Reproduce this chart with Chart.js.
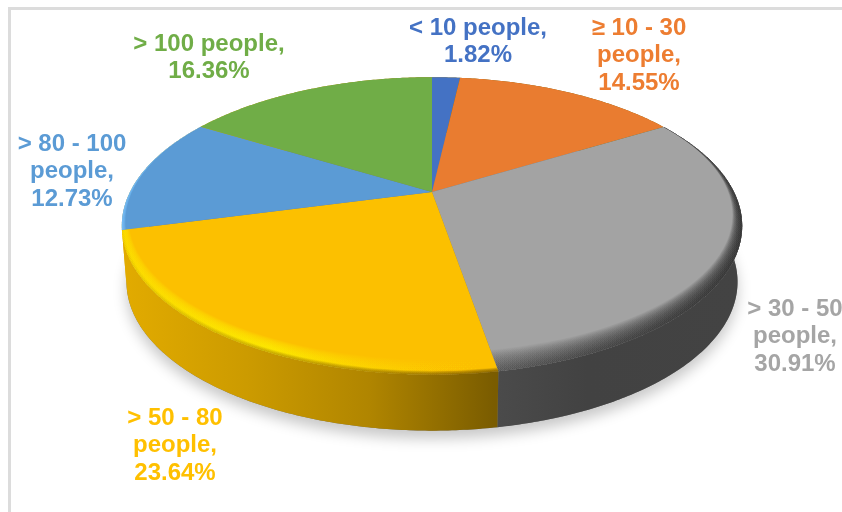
<!DOCTYPE html>
<html>
<head>
<meta charset="utf-8">
<style>
  html, body { margin: 0; background: #fff; overflow: hidden; width: 842px; height: 512px; }
  #frame { position: absolute; left: 8px; top: 7px; width: 900px; height: 600px; border: 3px solid #dcdcdc; }
  #pie { position: absolute; left: 0; top: 0; }
</style>
</head>
<body>
<div id="frame"></div>
<canvas id="pie" width="842" height="512"></canvas>
<script src="https://cdn.jsdelivr.net/npm/chart.js@4"></script>
<script>
const categories = ["< 10 people", "≥ 10 - 30 people", "> 30 - 50 people", "> 50 - 80 people", "> 80 - 100 people", "> 100 people"];
const shares = [1.82, 14.55, 30.91, 23.64, 12.73, 16.36];
const colors = ["#4472c4", "#e97c30", "#a3a3a3", "#fcc000", "#5b9bd5", "#70ad47"];
const textColors = ["#4472c4", "#ed7d31", "#a5a5a5", "#ffc000", "#5b9bd5", "#70ad47"];
const labelLines = [
    ["< 10 people,", "1.82%"],
    ["≥ 10 - 30", "people,", "14.55%"],
    ["> 30 - 50", "people,", "30.91%"],
    ["> 50 - 80", "people,", "23.64%"],
    ["> 80 - 100", "people,", "12.73%"],
    ["> 100 people,", "16.36%"]
];
const labelX = [478, 639, 795, 175, 72, 209];
const labelY = [28, 28, 309, 418, 144, 44];

// perspective of the disc: centre of the pie is not the centre of the ellipse
const CX = 432, CY = 192, RX = 302, RY = 141, TILT = -0.228, DEPTH = 56;
const ELL = { rx: 310, ry: 149, cy: 226 };

function topPoint(a, r = 1) {
    const u = r * Math.cos(a), v = r * Math.sin(a), w = 1 + TILT * v;
    return [CX + RX * u / w, CY + RY * v / w];
}

function bottomPoint(a) {
    const p = topPoint(a);
    return [CX + (p[0] - CX) * 0.985, p[1] + DEPTH];
}

function arcPoints(a1, a2, fn) {
    const n = Math.max(2, Math.ceil((a2 - a1) / 0.01));
    const pts = [];
    for (let i = 0; i <= n; i++) pts.push(fn(a1 + (a2 - a1) * i / n));
    return pts;
}

function tracePoly(ctx, pts) {
    ctx.beginPath();
    pts.forEach((p, i) => i ? ctx.lineTo(p[0], p[1]) : ctx.moveTo(p[0], p[1]));
    ctx.closePath();
}

// crescent between the rim and a smaller ellipse pushed towards the back
function crescent(ctx, s, fill) {
    ctx.beginPath();
    ctx.ellipse(CX, ELL.cy, ELL.rx + 2, ELL.ry + 2, 0, 0, Math.PI * 2);
    ctx.ellipse(CX, ELL.cy - 7 * s, ELL.rx - 6 * s, ELL.ry - 7 * s, 0, 0, Math.PI * 2);
    ctx.fillStyle = fill;
    ctx.fill("evenodd");
}

function bevel(ctx, index) {
    if (index === 2) {
        const g = ctx.createLinearGradient(495, 0, 742, 0);
        g.addColorStop(0, "rgba(55,55,55,0.03)");
        g.addColorStop(1, "rgba(45,45,45,0.07)");
        for (let s = 1.6; s > 0.03; s -= 0.05) crescent(ctx, s, g);
    } else if (index === 3) {
        const g = ctx.createLinearGradient(122, 0, 495, 0);
        g.addColorStop(0, "rgba(255,222,0,0.14)");
        g.addColorStop(0.4, "rgba(255,238,0,0.12)");
        g.addColorStop(1, "rgba(255,200,0,0)");
        for (let s = 1.1; s > 0.2; s -= 0.06) crescent(ctx, s, g);
        const d = ctx.createLinearGradient(122, 0, 495, 0);
        d.addColorStop(0, "rgba(150,110,0,0.01)");
        d.addColorStop(0.5, "rgba(150,110,0,0.09)");
        d.addColorStop(1, "rgba(110,80,0,0.14)");
        for (let s = 0.3; s > 0.01; s -= 0.03) crescent(ctx, s, d);
    } else if (index === 4) {
        for (let s = 0.6; s > 0.05; s -= 0.06) crescent(ctx, s, "rgba(125,195,255,0.14)");
    }
}

class Arc3d extends Chart.ArcElement {
    static id = "arc3d";
    static defaults = Chart.ArcElement.defaults;
    draw(ctx) {
        const { startAngle, endAngle } = this.getProps(["startAngle", "endAngle"], true);
        const pts = arcPoints(startAngle, endAngle, topPoint);
        pts.push([CX, CY]);
        ctx.save();
        tracePoly(ctx, pts);
        ctx.fillStyle = this.options.backgroundColor;
        ctx.fill();
        ctx.clip();
        bevel(ctx, this.$context.dataIndex);
        ctx.restore();
    }
}

class Pie3d extends Chart.PieController {
    static id = "pie3d";
    static defaults = { ...Chart.PieController.defaults, dataElementType: "arc3d" };
    static overrides = Chart.PieController.overrides;
}

Chart.register(Arc3d, Pie3d);

function wallFill(ctx, index) {
    const g = ctx.createLinearGradient(122, 0, 742, 0);
    if (index === 2) {
        g.addColorStop(0.6, "#4b4b4b");
        g.addColorStop(0.75, "#424242");
        g.addColorStop(1, "#434343");
    } else {
        // the only other wall showing is the sliver at the far left, which is yellow in the picture
        g.addColorStop(0, "#e2ab00");
        g.addColorStop(0.2, "#cc9b00");
        g.addColorStop(0.4, "#b08500");
        g.addColorStop(0.6, "#7a5c00");
        g.addColorStop(1, "#7a5c00");
    }
    return g;
}

const wallsPlugin = {
    id: "walls",
    beforeDatasetsDraw(chart) {
        const ctx = chart.ctx;
        const arcs = chart.getDatasetMeta(0).data;
        const full = arcPoints(0, Math.PI * 2, bottomPoint);

        ctx.save();
        ctx.shadowColor = "rgba(0,0,0,0.22)";
        ctx.shadowBlur = 14;
        ctx.shadowOffsetY = 8;
        ctx.shadowOffsetX = 0;
        tracePoly(ctx, full);
        ctx.fillStyle = "#777";
        ctx.fill();
        ctx.restore();

        arcs.forEach((arc, i) => {
            const { startAngle, endAngle } = arc.getProps(["startAngle", "endAngle"], true);
            const pts = arcPoints(startAngle, endAngle, topPoint)
                .concat(arcPoints(startAngle, endAngle, bottomPoint).reverse());
            tracePoly(ctx, pts);
            ctx.fillStyle = wallFill(ctx, i);
            ctx.fill();
        });
    }
};

const labelsPlugin = {
    id: "sliceLabels",
    afterDatasetsDraw(chart) {
        const ctx = chart.ctx;
        ctx.save();
        ctx.font = "bold 24px 'Liberation Sans'";
        ctx.textAlign = "center";
        ctx.textBaseline = "middle";
        labelLines.forEach((lines, i) => {
            ctx.fillStyle = textColors[i];
            lines.forEach((line, j) => ctx.fillText(line, labelX[i], labelY[i] + j * 27.6));
        });
        ctx.restore();
    }
};

new Chart(document.getElementById("pie"), {
    type: "pie3d",
    data: {
        labels: categories,
        datasets: [{ data: shares, backgroundColor: colors, borderWidth: 0 }]
    },
    options: {
        responsive: false,
        animation: false,
        devicePixelRatio: 1,
        plugins: { legend: { display: false }, tooltip: { enabled: false } }
    },
    plugins: [wallsPlugin, labelsPlugin]
});
</script>
</body>
</html>
